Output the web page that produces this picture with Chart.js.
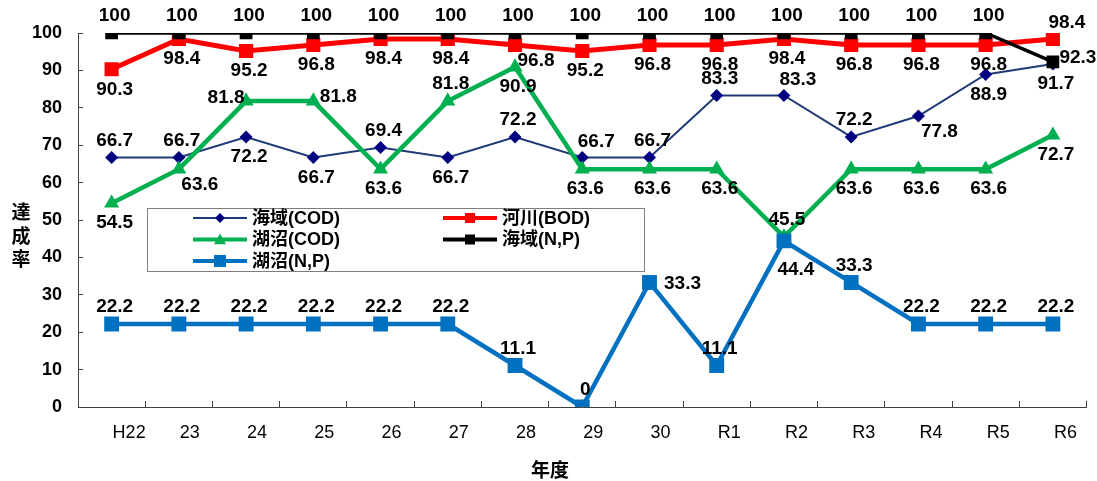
<!DOCTYPE html>
<html lang="ja">
<head>
  <meta charset="UTF-8" />
  <title>達成率の推移</title>
  <script src="https://cdn.jsdelivr.net/npm/chart.js"></script>
  <style>
    * { box-sizing: border-box; }
    body { margin: 0; background: #fff; }
    #wrap { width: 1097px; height: 481px; }
  </style>
</head>
<body>
  <div id="wrap"><canvas id="chart" width="1097" height="481"></canvas></div>

  <script>
    // 年度
    const years = ['H22', '23', '24', '25', '26', '27', '28', '29', '30', 'R1', 'R2', 'R3', 'R4', 'R5', 'R6'];

    // 達成率 (%)
    const seaCOD  = [66.7, 66.7, 72.2, 66.7, 69.4, 66.7, 72.2, 66.7, 66.7, 83.3, 83.3, 72.2, 77.8, 88.9, 91.7];
    const riverBOD = [90.3, 98.4, 95.2, 96.8, 98.4, 98.4, 96.8, 95.2, 96.8, 96.8, 98.4, 96.8, 96.8, 96.8, 98.4];
    const lakeCOD = [54.5, 63.6, 81.8, 81.8, 63.6, 81.8, 90.9, 63.6, 63.6, 63.6, 45.5, 63.6, 63.6, 63.6, 72.7];
    const seaNP   = [100, 100, 100, 100, 100, 100, 100, 100, 100, 100, 100, 100, 100, 100, 92.3];
    const lakeNP  = [22.2, 22.2, 22.2, 22.2, 22.2, 22.2, 11.1, 0, 33.3, 11.1, 44.4, 33.3, 22.2, 22.2, 22.2];

    const yTicks = [0, 10, 20, 30, 40, 50, 60, 70, 80, 90, 100];

    // where each value label sits relative to its point
    const seaCODPlace   = ['a','a','b','b','a','b','a','ar','a','a','ar','a','br','b','b'];
    const riverBODPlace = ['b','b','b','b','b','b','br','b','b','b','b','b','b','b','ar'];
    const lakeCODPlace  = ['b','br','l','r','b','a','b','b','b','b','a','b','b','b','b'];
    const seaNPPlace    = ['a','a','a','a','a','a','a','a','a','a','a','a','a','a','r'];
    const lakeNPPlace   = ['a','a','a','a','a','a','a','a','rr','a','bb','a','a','a','a'];

    const OFFS = {
      a: [3, -17], b: [3, 20], ar: [14, -16], br: [21, 16],
      bb: [12, 29], r: [25, -4], rr: [33, 1], l: [-20, -3]
    };

    const NUM_FONT = '"Liberation Sans", Arial, sans-serif';
    const JP_FONT = '"Liberation Sans", "Noto Sans CJK JP", sans-serif';

    function mark(ctx, style, x, y, r, color) {
      ctx.fillStyle = color;
      ctx.beginPath();
      if (style === 'rect') {
        ctx.rect(x - r, y - r, 2 * r, 2 * r);
      } else if (style === 'rectRot') {
        ctx.moveTo(x - r, y); ctx.lineTo(x, y - r); ctx.lineTo(x + r, y); ctx.lineTo(x, y + r);
        ctx.closePath();
      } else {
        ctx.moveTo(x, y - r); ctx.lineTo(x + r, y + r * 0.8); ctx.lineTo(x - r, y + r * 0.8);
        ctx.closePath();
      }
      ctx.fill();
    }

    const valueLabels = {
      id: 'valueLabels',
      afterDatasetsDraw(chart) {
        const ctx = chart.ctx;
        ctx.save();
        ctx.font = 'bold 19px ' + NUM_FONT;
        ctx.fillStyle = '#000';
        ctx.textAlign = 'center';
        ctx.textBaseline = 'middle';
        chart.data.datasets.forEach((ds, i) => {
          chart.getDatasetMeta(i).data.forEach((pt, j) => {
            const o = OFFS[ds.place[j]];
            ctx.fillText(String(ds.data[j]), pt.x + o[0], pt.y + o[1]);
          });
        });
        ctx.restore();
      }
    };

    const boxLegend = {
      id: 'boxLegend',
      afterDraw(chart) {
        const ctx = chart.ctx;
        ctx.save();
        ctx.fillStyle = '#fff';
        ctx.fillRect(148, 208, 497, 63);
        ctx.strokeStyle = '#7f7f7f';
        ctx.lineWidth = 1;
        ctx.strokeRect(147.5, 208.5, 497, 63);
        ctx.font = 'bold 18px ' + JP_FONT;
        ctx.textBaseline = 'middle';
        ctx.textAlign = 'left';
        chart.data.datasets.forEach((ds, i) => {
          const x0 = i % 2 ? 443 : 193;
          const y = 218 + Math.floor(i / 2) * 21.5;
          ctx.strokeStyle = ds.borderColor;
          ctx.lineWidth = ds.legendLine;
          ctx.beginPath();
          ctx.moveTo(x0, y); ctx.lineTo(x0 + 54, y);
          ctx.stroke();
          mark(ctx, ds.pointStyle, x0 + 27, y, ds.legendMark, ds.pointBackgroundColor);
          ctx.fillStyle = '#000';
          ctx.fillText(ds.label, x0 + 59, y + 1);
        });
        ctx.restore();
      }
    };

    const axisTitles = {
      id: 'axisTitles',
      afterDraw(chart) {
        const ctx = chart.ctx;
        ctx.save();
        ctx.font = 'bold 19px "Noto Sans CJK JP", sans-serif';
        ctx.fillStyle = '#000';
        ctx.textAlign = 'center';
        ctx.textBaseline = 'middle';
        ['達', '成', '率'].forEach((c, k) => ctx.fillText(c, 21, 212 + k * 23.5));
        ctx.fillText('年度', 550, 470);
        ctx.restore();
      }
    };

    new Chart(document.getElementById('chart'), {
      type: 'line',
      data: {
        labels: years,
        datasets: [
          { label: '海域(COD)', data: seaCOD, place: seaCODPlace, order: 4,
            borderColor: '#1F3B75', borderWidth: 2, pointStyle: 'rectRot', pointRadius: 6.5,
            pointBackgroundColor: '#000080', pointBorderColor: '#000080', pointBorderWidth: 0,
            legendLine: 2, legendMark: 5 },
          { label: '河川(BOD)', data: riverBOD, place: riverBODPlace, order: 2,
            borderColor: '#FF0000', borderWidth: 5, pointStyle: 'rect', pointRadius: 10,
            pointBackgroundColor: '#FF0000', pointBorderColor: '#FF0000', pointBorderWidth: 0,
            legendLine: 4, legendMark: 5 },
          { label: '湖沼(COD)', data: lakeCOD, place: lakeCODPlace, order: 3,
            borderColor: '#00B050', borderWidth: 4.5, pointStyle: 'triangle', pointRadius: 8.7,
            pointBackgroundColor: '#00B050', pointBorderColor: '#00B050', pointBorderWidth: 0,
            legendLine: 4, legendMark: 6 },
          { label: '海域(N,P)', data: seaNP, place: seaNPPlace, order: 1,
            borderColor: '#000000', borderWidth: 3.5, pointStyle: 'rect', pointRadius: 9,
            pointBackgroundColor: '#000000', pointBorderColor: '#000000', pointBorderWidth: 0,
            legendLine: 4, legendMark: 5 },
          { label: '湖沼(N,P)', data: lakeNP, place: lakeNPPlace, order: 0,
            borderColor: '#0070C0', borderWidth: 4.5, pointStyle: 'rect', pointRadius: 10.5,
            pointBackgroundColor: '#0070C0', pointBorderColor: '#0070C0', pointBorderWidth: 0,
            legendLine: 4, legendMark: 6 }
        ]
      },
      options: {
        responsive: false,
        animation: false,
        events: [],
        layout: { padding: { top: 33, right: 5, left: 0, bottom: 0 } },
        plugins: { legend: { display: false }, tooltip: { enabled: false } },
        elements: { line: { tension: 0 } },
        scales: {
          x: {
            offset: true,
            afterFit: s => { s.height = 74; s.paddingLeft = 0; s.paddingRight = 0; },
            border: { color: '#404040', width: 1 },
            grid: { drawOnChartArea: false, offset: true, tickLength: -6, color: '#404040' },
            ticks: { align: 'start', labelOffset: 1, padding: 21, color: '#000',
                     font: { family: NUM_FONT, size: 18 } }
          },
          y: {
            min: yTicks[0], max: yTicks[yTicks.length - 1],
            afterFit: s => { s.width = 78; },
            afterBuildTicks: s => { s.ticks = yTicks.map(v => ({ value: v })); },
            border: { color: '#404040', width: 1 },
            grid: { drawOnChartArea: false, tickLength: -5, color: '#404040' },
            ticks: { padding: 21, color: '#000',
                     font: { family: NUM_FONT, size: 18, weight: 'bold' } }
          }
        }
      },
      plugins: [valueLabels, boxLegend, axisTitles]
    });
  </script>
</body>
</html>
